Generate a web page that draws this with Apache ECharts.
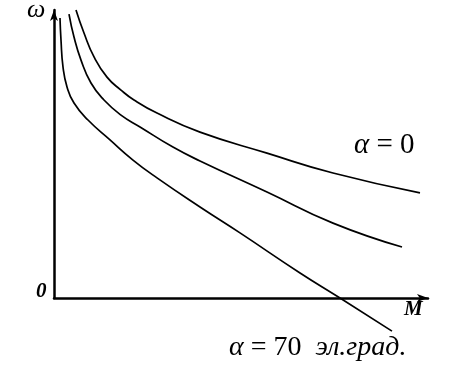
<!DOCTYPE html>
<html>
<head>
<meta charset="utf-8">
<script src="https://cdn.jsdelivr.net/npm/echarts@6/dist/echarts.min.js"></script>
<style>html,body{margin:0;padding:0;background:#fff}#c{width:454px;height:369px}</style>
</head>
<body>
<div id="c"></div>
<script>
// Curve data: [M, ω] in arbitrary units (0..100)
const curveAlpha0_M = [5.88, 8.02, 10.7, 14.17, 17.91, 21.39, 27.54, 39.04, 56.95, 74.6, 97.86];
const curveAlpha0_W = [100, 92.0, 83.7, 76.7, 72.2, 68.75, 64.2, 57.6, 50.3, 43.4, 36.5];
const curveMid_M = [4.01, 5.35, 7.22, 9.89, 13.37, 17.91, 23.0, 31.8, 39.04, 56.95, 74.6, 93.05];
const curveMid_W = [98.6, 90.6, 82.6, 74.65, 68.75, 63.5, 59.4, 52.4, 47.6, 36.8, 26.0, 17.7];
const curveAlpha70_M = [1.6, 1.87, 2.41, 3.48, 5.35, 9.09, 14.97, 21.12, 27.54, 39.04, 49.73, 65.78, 76.47, 90.37];
const curveAlpha70_W = [97.2, 89.6, 80.2, 73.3, 67.7, 61.8, 54.9, 47.9, 41.7, 31.6, 22.6, 8.7, 0, -11.5];

const zip = (a, b) => a.map((v, i) => [v, b[i]]);
const serif = '"Liberation Serif", "DejaVu Serif", serif';

const chart = echarts.init(document.getElementById('c'), null, {renderer: 'canvas'});
const lineSeries = (data) => ({
  type: 'line', data, smooth: 0.5, showSymbol: false, clip: false,
  lineStyle: {color: '#000', width: 1.7}, silent: true
});
chart.setOption({
  animation: false,
  backgroundColor: '#fff',
  grid: {left: 54, right: 26, top: 10, bottom: 71},
  xAxis: {
    type: 'value', min: 0, max: 100,
    axisLine: {onZero: false, symbol: ['none', 'arrow'], symbolSize: [6, 11], lineStyle: {color: '#000', width: 2.5}},
    axisTick: {show: false}, axisLabel: {show: false}, splitLine: {show: false}
  },
  yAxis: {
    type: 'value', min: 0, max: 100,
    axisLine: {show: true, symbol: ['none', 'arrow'], symbolSize: [6, 11], lineStyle: {color: '#000', width: 2.5}},
    axisTick: {show: false}, axisLabel: {show: false}, splitLine: {show: false}
  },
  series: [
    lineSeries(zip(curveAlpha0_M, curveAlpha0_W)),
    lineSeries(zip(curveMid_M, curveMid_W)),
    lineSeries(zip(curveAlpha70_M, curveAlpha70_W))
  ],
  graphic: [
    {type: 'text', left: 27, top: -3, style: {text: 'ω', font: 'italic 26px ' + serif, fill: '#000'}},
    {type: 'text', left: 36, top: 281, style: {text: '0', font: 'italic bold 21px ' + serif, fill: '#000'}},
    {type: 'text', left: 404, top: 299, style: {text: 'M', font: 'italic bold 21px ' + serif, fill: '#000'}},
    {type: 'text', left: 354, top: 131, style: {
      text: '{a|α} = 0', font: '29px ' + serif, fill: '#000',
      rich: {a: {fontStyle: 'italic', fontSize: 29, fontFamily: serif}}
    }},
    {type: 'text', left: 229, top: 334, style: {
      text: '{a|α} = 70  {b|эл.град.}', font: '28px ' + serif, fill: '#000',
      rich: {a: {fontStyle: 'italic', fontSize: 28, fontFamily: serif}, b: {fontStyle: 'italic', fontSize: 28, fontFamily: serif}}
    }}
  ]
});
</script>
</body>
</html>
